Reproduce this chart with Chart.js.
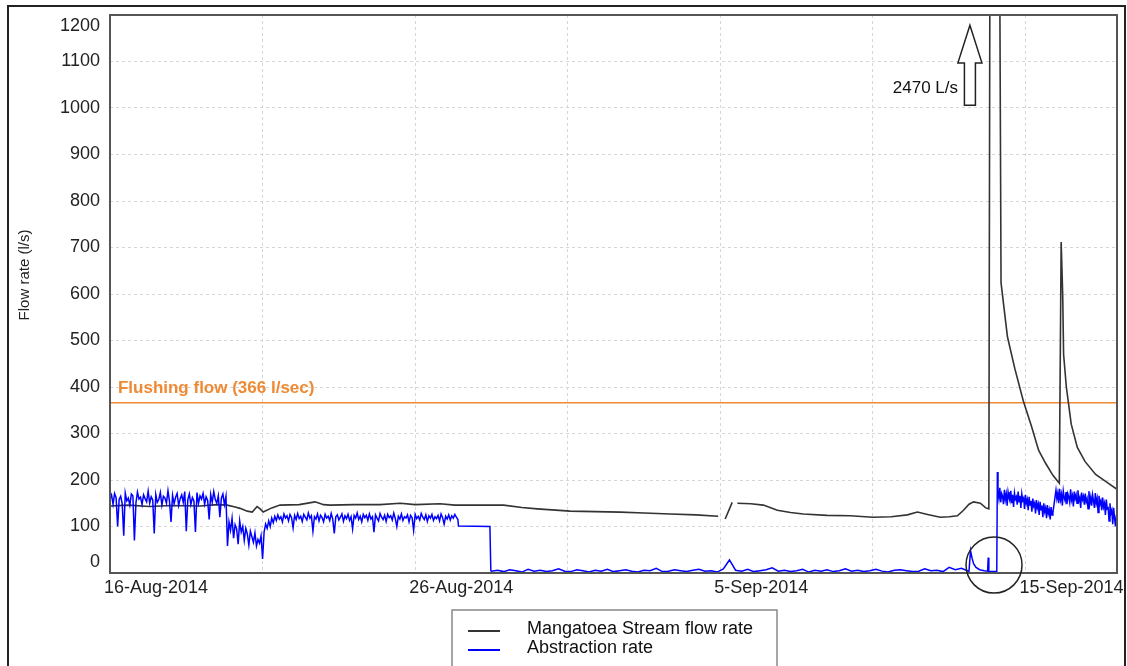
<!DOCTYPE html>
<html>
<head>
<meta charset="utf-8">
<script src="https://cdn.jsdelivr.net/npm/chart.js@4.4.0/dist/chart.umd.min.js"></script>
<style>
html, body { margin: 0; padding: 0; background: #fff; }
#wrap { position: relative; width: 1127px; height: 666px; }
</style>
</head>
<body>
<div id="wrap"><canvas id="flowChart" width="1127" height="666"></canvas></div>
<script>
// x values are days since 16-Aug-2014
const tickDays = [0, 10, 20, 30];
const tickLabels = ['16-Aug-2014', '26-Aug-2014', '5-Sep-2014', '15-Sep-2014'];

// Mangatoea Stream flow rate (l/s), null = gap in record
const streamDays = [0, 0.6, 1.3, 2.0, 2.95, 3.5, 3.84, 4.1, 4.26, 4.5, 4.66, 4.82, 4.92, 5.02, 5.3, 5.57, 6.2, 6.72, 7.0, 7.21,
  8.0, 8.85, 9.51, 10.0, 10.82, 11.3, 11.8, 12.9, 13.5, 14.0, 15.08, 15.9, 16.72, 17.5, 18.36, 19.2, 19.93, 20.0, 20.16, 20.39,
  20.45, 20.56, 21.0, 21.41, 21.87, 22.3, 22.72, 23.5, 24.26, 25.0, 25.6, 26.13, 26.46, 26.79, 27.21, 27.5, 27.77, 27.97, 28.15, 28.3,
  28.52, 28.7, 28.8, 28.87, 29.1, 29.16, 29.2, 29.41, 29.65, 29.93, 30.2, 30.43, 30.66, 30.9, 31.11, 31.17, 31.22, 31.25, 31.34, 31.5,
  31.7, 31.95, 32.3, 32.65, 33.0];
const streamFlow = [144, 146, 143, 145, 144, 147, 146, 142, 139, 133, 131, 143, 138, 131, 140, 146, 147, 153, 147, 146,
  147, 147, 150, 147, 149, 146, 146, 146, 141, 138, 133, 132, 131, 129, 127, 125, 122, null, 116, 152,
  null, 150, 149, 146, 135, 130, 127, 124, 123, 120, 121, 125, 131, 126, 120, 121, 123, 135, 148, 153,
  150, 140, 138, 2470, 2470, 1250, 624, 508, 440, 370, 315, 264, 236, 210, 193, 712, 600, 470, 400, 320,
  270, 240, 212, 196, 180];

// Abstraction rate (l/s), logged at regular intervals within each run
const abstrStart1 = 0, abstrStep1 = 0.05;
const abstrRate1 = [160, 168, 148, 171, 162, 100, 158, 165, 149, 80,
  172, 155, 161, 146, 170, 166, 70, 151, 174, 159,
  163, 147, 168, 160, 153, 176, 150, 164, 157, 85,
  169, 152, 158, 173, 146, 165, 161, 150, 177, 154,
  110, 167, 149, 163, 171, 145, 160, 168, 152, 175,
  90, 158, 170, 147, 162, 155, 88, 173, 150, 166,
  159, 171, 148, 164, 156, 115, 169, 152, 175, 158,
  150, 166, 120, 161, 170, 147, 165];
const abstrStart2 = 3.85, abstrStep2 = 0.05;
const abstrRate2 = [58, 110, 92, 118, 75, 104, 95, 62, 112, 88, 100, 70, 96, 84, 60, 90, 78, 66, 86, 58, 72, 64, 80, 30];
const abstrStart3 = 5.05, abstrStep3 = 0.05;
const abstrRate3 = [88, 105, 96, 112, 100, 118, 108, 122, 113, 125,
  116, 121, 110, 127, 118, 123, 112, 126, 119, 97,
  124, 115, 128, 117, 122, 111, 126, 120, 114, 129,
  118, 123, 90, 121, 116, 127, 112, 124, 119, 110,
  126, 118, 122, 113, 128, 116, 85, 121, 125, 114,
  120, 127, 111, 123, 117, 126, 113, 121, 95, 124,
  118, 129, 115, 122, 110, 126, 119, 124, 113, 127,
  116, 121, 88, 125, 118, 112, 128, 120, 115, 124,
  111, 126, 119, 123, 114, 129, 117, 100, 122, 116,
  127, 113, 121, 118, 125, 110, 124, 119, 92, 126,
  117, 122, 114, 128, 120, 115, 125, 111, 123, 118,
  126, 113, 121, 117, 124, 112, 127, 119, 105, 122,
  116, 125, 114, 123, 118, 126, 120, 115];
const stepDays = [11.42, 12.45, 12.48];
const stepRate = [101, 100, 5];
const abstrStart4 = 12.5, abstrStep4 = 0.2;
const abstrRate4 = [4, 6, 3, 7, 5, 2, 8, 4, 6, 3,
  5, 9, 4, 3, 7, 5, 2, 6, 4, 8,
  3, 5, 7, 4, 2, 6, 5, 10, 3, 4,
  7, 5, 3, 6, 8, 4, 5, 2, 9, 28,
  6, 4, 8, 3, 5, 7, 11, 4, 6, 3,
  5, 8, 2, 6, 4, 7, 3, 5, 9, 4,
  6, 3, 5, 8, 4, 2, 6, 7, 5, 3,
  4, 9, 5, 6, 3, 12, 7, 10, 5];
const restartDays = [28.15, 28.2, 28.25, 28.3, 28.38, 28.5, 28.65, 28.76, 28.78, 28.8, 29.0, 29.06, 29.08];
const restartRate = [4, 48, 32, 20, 12, 7, 5, 4, 33, 4, 3, 3, 217];
const abstrStart5 = 29.1, abstrStep5 = 0.03;
const abstrRate5 = [176, 160, 183, 152, 171, 165, 148, 179, 158, 170,
  145, 174, 162, 155, 177, 150, 168, 142, 172, 159,
  164, 147, 175, 153, 166, 140, 170, 156, 161, 138,
  168, 150, 158, 135, 164, 146, 155, 132, 160, 144,
  150, 128, 157, 140, 148, 125, 153, 136, 145, 120,
  150, 132, 140, 118, 146, 128, 136, 115, 142, 125, 130];
const abstrStart6 = 31.0, abstrStep6 = 0.03;
const abstrRate6 = [178, 160, 172, 150, 181, 158, 169, 145, 176, 162,
  155, 174, 148, 170, 163, 152, 180, 157, 166, 143,
  175, 160, 168, 150, 178, 155, 162, 140, 173, 158,
  165, 147, 171, 153, 160, 138, 176, 150, 163, 145,
  168, 155, 140, 172, 150, 160, 130, 166, 148, 155,
  135, 162, 142, 150, 125, 158, 138, 140, 112, 150,
  128, 135, 105, 140, 118, 100, 125];

const flushingFlow = 366;
const peakFlow = 2470;

function run(start, step, vals) {
  return vals.map((v, i) => ({ x: +(start + i * step).toFixed(3), y: v }));
}
function zip(days, vals) {
  return days.map((d, i) => ({ x: d, y: vals[i] }));
}

const streamData = zip(streamDays, streamFlow);
const abstrData = [].concat(
  run(abstrStart1, abstrStep1, abstrRate1),
  run(abstrStart2, abstrStep2, abstrRate2),
  run(abstrStart3, abstrStep3, abstrRate3),
  zip(stepDays, stepRate),
  run(abstrStart4, abstrStep4, abstrRate4),
  zip(restartDays, restartRate),
  run(abstrStart5, abstrStep5, abstrRate5),
  run(abstrStart6, abstrStep6, abstrRate6)
);

const FONT = "'Liberation Sans', Arial, sans-serif";

// annotations: arrow pointing to the off-scale peak, circle round the restart
const arrowAt = { day: 28.18, tip: 1178, base: 1006, head: 1097 };
const peakLabelAt = { day: 27.79, flow: 1043 };
const circleAt = { day: 28.97, flow: 17, r: 28 };
const flushLabelAt = { day: 0.26, flow: 398 };

const decor = {
  id: 'decor',
  beforeDraw(chart) {
    const ctx = chart.ctx;
    ctx.save();
    ctx.fillStyle = '#fff';
    ctx.fillRect(0, 0, chart.width, chart.height);
    ctx.restore();
  },
  afterDraw(chart) {
    const { ctx, chartArea: a, scales: { x, y } } = chart;
    ctx.save();
    // plot box
    ctx.strokeStyle = '#555';
    ctx.lineWidth = 2;
    ctx.strokeRect(a.left, a.top, a.right - a.left, a.bottom - a.top);

    // y axis title (sits a bit above the middle in the original)
    ctx.save();
    ctx.translate(25, 275);
    ctx.rotate(-Math.PI / 2);
    ctx.fillStyle = '#222';
    ctx.font = '15px ' + FONT;
    ctx.textAlign = 'center';
    ctx.textBaseline = 'middle';
    ctx.fillText('Flow rate (l/s)', 0, 0);
    ctx.restore();

    // flushing flow label
    ctx.fillStyle = '#ee8a33';
    ctx.font = 'bold 17px ' + FONT;
    ctx.textAlign = 'left';
    ctx.textBaseline = 'middle';
    ctx.fillText('Flushing flow (' + flushingFlow + ' l/sec)', x.getPixelForValue(flushLabelAt.day), y.getPixelForValue(flushLabelAt.flow));

    // arrow
    const ax = x.getPixelForValue(arrowAt.day);
    const tipY = y.getPixelForValue(arrowAt.tip);
    const headY = y.getPixelForValue(arrowAt.head);
    const baseY = y.getPixelForValue(arrowAt.base);
    ctx.beginPath();
    ctx.moveTo(ax, tipY);
    ctx.lineTo(ax + 12, headY);
    ctx.lineTo(ax + 5.5, headY);
    ctx.lineTo(ax + 5.5, baseY);
    ctx.lineTo(ax - 5.5, baseY);
    ctx.lineTo(ax - 5.5, headY);
    ctx.lineTo(ax - 12, headY);
    ctx.closePath();
    ctx.fillStyle = '#fff';
    ctx.fill();
    ctx.strokeStyle = '#222';
    ctx.lineWidth = 1.5;
    ctx.stroke();

    ctx.fillStyle = '#111';
    ctx.font = '17px ' + FONT;
    ctx.textAlign = 'right';
    ctx.fillText(peakFlow + ' L/s', x.getPixelForValue(peakLabelAt.day), y.getPixelForValue(peakLabelAt.flow));

    // circle
    ctx.beginPath();
    ctx.arc(x.getPixelForValue(circleAt.day), y.getPixelForValue(circleAt.flow), circleAt.r, 0, Math.PI * 2);
    ctx.strokeStyle = '#222';
    ctx.lineWidth = 1.5;
    ctx.stroke();

    // legend
    const items = chart.data.datasets.filter(d => d.inLegend);
    ctx.strokeStyle = '#888';
    ctx.lineWidth = 1.5;
    ctx.strokeRect(452, 610, 325, 62);
    ctx.font = '18px ' + FONT;
    ctx.textAlign = 'left';
    ctx.fillStyle = '#111';
    items.forEach((d, i) => {
      const ly = 630 + i * 19;
      ctx.beginPath();
      ctx.moveTo(468, ly + 1);
      ctx.lineTo(500, ly + 1);
      ctx.strokeStyle = d.borderColor;
      ctx.lineWidth = 2;
      ctx.stroke();
      ctx.fillText(d.label, 527, ly - 1);
    });

    // outer frame
    ctx.strokeStyle = '#222';
    ctx.lineWidth = 2;
    ctx.strokeRect(8, 6, 1117, 700);
    ctx.restore();
  }
};

new Chart(document.getElementById('flowChart'), {
  type: 'line',
  data: {
    datasets: [
      {
        label: 'Mangatoea Stream flow rate',
        data: streamData,
        borderColor: '#333333',
        borderWidth: 1.6,
        pointRadius: 0,
        spanGaps: false,
        order: 1,
        inLegend: true
      },
      {
        label: 'Abstraction rate',
        data: abstrData,
        borderColor: '#0000ff',
        borderWidth: 1.5,
        pointRadius: 0,
        order: 0,
        inLegend: true
      },
      {
        label: 'Flushing flow',
        data: [{ x: 0, y: flushingFlow }, { x: 33, y: flushingFlow }],
        borderColor: '#ee8a33',
        borderWidth: 1.5,
        pointRadius: 0,
        order: 2
      }
    ]
  },
  options: {
    responsive: false,
    animation: false,
    layout: { padding: { left: 8, top: 15, right: 10, bottom: 63 } },
    plugins: { legend: { display: false }, tooltip: { enabled: false } },
    scales: {
      x: {
        type: 'linear',
        min: 0,
        max: 33,
        ticks: {
          stepSize: 5,
          autoSkip: false,
          maxRotation: 0,
          align: 'start',
          labelOffset: -6,
          padding: 4,
          color: '#222',
          font: { family: FONT, size: 18 },
          callback: v => {
            const i = tickDays.indexOf(v);
            return i < 0 ? '' : tickLabels[i];
          }
        },
        grid: { color: '#d6d6d6', drawTicks: false },
        border: { display: false, dash: [3, 3] },
        afterFit: s => { s.width = s.width; s.height = 30; s.paddingLeft = 0; s.paddingRight = 0; }
      },
      y: {
        min: 0,
        max: 1200,
        ticks: {
          stepSize: 100,
          padding: 10,
          color: '#222',
          font: { family: FONT, size: 18 },
          // end labels are nudged inside the plot box, as in the original
          callback: v => v === 1200 ? ['', '1200'] : v === 0 ? ['0', ''] : String(v)
        },
        grid: { color: '#d6d6d6', drawTicks: false },
        border: { display: false, dash: [3, 3] },
        afterFit: s => { s.width = 102; s.paddingTop = 0; s.paddingBottom = 0; }
      }
    }
  },
  plugins: [decor]
});
</script>
</body>
</html>
